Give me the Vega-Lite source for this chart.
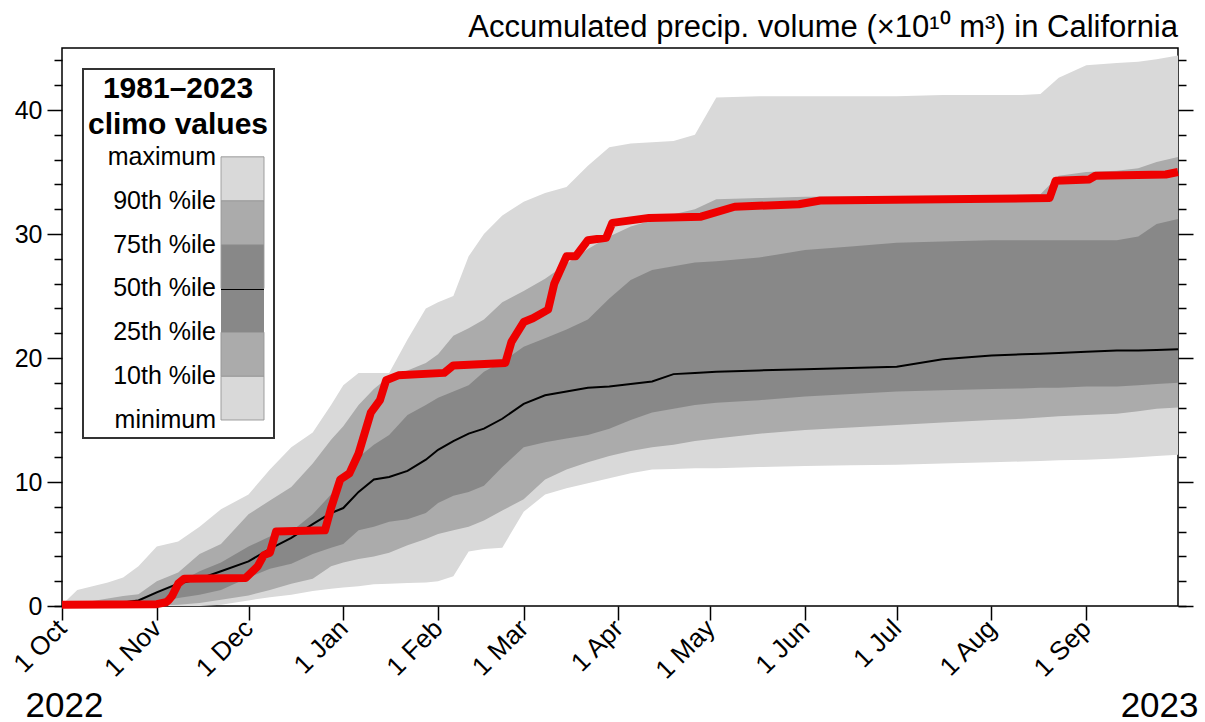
{
  "$schema": "https://vega.github.io/schema/vega-lite/v6.json",
  "width": 1116,
  "height": 558,
  "autosize": {"type": "none"},
  "padding": {"left": 62, "top": 48, "right": 27, "bottom": 116},
  "background": "white",
  "config": {
    "font": "Liberation Sans",
    "view": {"stroke": "black", "strokeWidth": 1.5},
    "axis": {"domain": false, "grid": false, "labelFont": "Liberation Sans", "labelFontSize": 25, "labelColor": "black", "tickColor": "black", "tickWidth": 1.5, "titleFont": "Liberation Sans", "titleColor": "black"},
    "legend": {"strokeWidth": 2}
  },
  "title": {"text": "Accumulated precip. volume (×10¹⁰ m³) in California", "anchor": "end", "frame": "group", "fontSize": 31, "fontWeight": "normal", "font": "Liberation Sans", "color": "black", "offset": 4},
  "datasets": {
    "clim": [
      {"date": "2022-10-01", "mn": 0, "p10": 0, "p25": 0, "p50": 0.02, "p75": 0, "p90": 0, "mx": 0.1},
      {"date": "2022-10-06", "mn": 0, "p10": 0, "p25": 0, "p50": 0.05, "p75": 0.05, "p90": 0.2, "mx": 1.3},
      {"date": "2022-10-11", "mn": 0, "p10": 0, "p25": 0.02, "p50": 0.1, "p75": 0.15, "p90": 0.4, "mx": 1.6},
      {"date": "2022-10-16", "mn": 0, "p10": 0, "p25": 0.04, "p50": 0.2, "p75": 0.3, "p90": 0.6, "mx": 1.9},
      {"date": "2022-10-21", "mn": 0, "p10": 0, "p25": 0.06, "p50": 0.28, "p75": 0.4, "p90": 0.8, "mx": 2.3},
      {"date": "2022-10-26", "mn": 0, "p10": 0.02, "p25": 0.1, "p50": 0.45, "p75": 0.55, "p90": 0.95, "mx": 3.2},
      {"date": "2022-11-01", "mn": 0, "p10": 0.05, "p25": 0.35, "p50": 1.1, "p75": 1.2, "p90": 2.0, "mx": 4.8},
      {"date": "2022-11-08", "mn": 0, "p10": 0.1, "p25": 0.65, "p50": 1.8, "p75": 1.9, "p90": 2.7, "mx": 5.2},
      {"date": "2022-11-15", "mn": 0, "p10": 0.25, "p25": 0.9, "p50": 2.2, "p75": 2.8, "p90": 4.2, "mx": 6.4},
      {"date": "2022-11-22", "mn": 0.1, "p10": 0.5, "p25": 1.3, "p50": 2.8, "p75": 3.5, "p90": 5.0, "mx": 7.8},
      {"date": "2022-12-01", "mn": 0.45, "p10": 0.85, "p25": 2.3, "p50": 3.6, "p75": 4.8, "p90": 7.4, "mx": 9.0},
      {"date": "2022-12-08", "mn": 0.7, "p10": 1.3, "p25": 3.0, "p50": 4.6, "p75": 5.6, "p90": 8.5, "mx": 11.0},
      {"date": "2022-12-15", "mn": 0.9, "p10": 1.8, "p25": 3.4, "p50": 5.5, "p75": 6.0, "p90": 9.6, "mx": 12.8},
      {"date": "2022-12-22", "mn": 1.2, "p10": 2.2, "p25": 4.2, "p50": 6.6, "p75": 7.4, "p90": 11.5, "mx": 14.0},
      {"date": "2022-12-28", "mn": 1.4, "p10": 3.2, "p25": 4.7, "p50": 7.5, "p75": 9.0, "p90": 13.4, "mx": 16.2},
      {"date": "2023-01-01", "mn": 1.5, "p10": 3.5, "p25": 5.0, "p50": 7.9, "p75": 10.0, "p90": 14.5, "mx": 17.8},
      {"date": "2023-01-06", "mn": 1.6, "p10": 3.8, "p25": 6.1, "p50": 9.2, "p75": 12.0, "p90": 16.2, "mx": 18.8},
      {"date": "2023-01-11", "mn": 1.75, "p10": 4.0, "p25": 6.4, "p50": 10.2, "p75": 13.0, "p90": 17.5, "mx": 18.8},
      {"date": "2023-01-16", "mn": 1.8, "p10": 4.3, "p25": 6.8, "p50": 10.4, "p75": 13.8, "p90": 18.5, "mx": 18.8},
      {"date": "2023-01-22", "mn": 1.85, "p10": 4.9, "p25": 7.0, "p50": 10.9, "p75": 15.4, "p90": 19.0, "mx": 21.5},
      {"date": "2023-01-28", "mn": 1.9, "p10": 5.4, "p25": 7.5, "p50": 11.8, "p75": 16.2, "p90": 19.6, "mx": 24.0},
      {"date": "2023-02-01", "mn": 2.0, "p10": 5.8, "p25": 8.3, "p50": 12.6, "p75": 16.8, "p90": 20.3, "mx": 24.5},
      {"date": "2023-02-06", "mn": 2.4, "p10": 6.1, "p25": 8.9, "p50": 13.3, "p75": 17.3, "p90": 21.8, "mx": 25.0},
      {"date": "2023-02-11", "mn": 4.4, "p10": 6.4, "p25": 9.2, "p50": 13.9, "p75": 17.8, "p90": 22.4, "mx": 28.2},
      {"date": "2023-02-16", "mn": 4.6, "p10": 6.9, "p25": 9.7, "p50": 14.3, "p75": 18.9, "p90": 23.1, "mx": 30.0},
      {"date": "2023-02-22", "mn": 4.7, "p10": 7.7, "p25": 11.2, "p50": 15.1, "p75": 19.7, "p90": 24.5, "mx": 31.5},
      {"date": "2023-03-01", "mn": 7.6, "p10": 8.6, "p25": 12.8, "p50": 16.3, "p75": 20.9, "p90": 25.4, "mx": 32.6},
      {"date": "2023-03-08", "mn": 9.0, "p10": 10.2, "p25": 13.2, "p50": 17.0, "p75": 21.6, "p90": 26.4, "mx": 33.3},
      {"date": "2023-03-15", "mn": 9.5, "p10": 11.0, "p25": 13.5, "p50": 17.3, "p75": 22.3, "p90": 27.6, "mx": 33.8},
      {"date": "2023-03-22", "mn": 9.9, "p10": 11.6, "p25": 13.8, "p50": 17.6, "p75": 23.1, "p90": 28.8, "mx": 35.5},
      {"date": "2023-03-29", "mn": 10.3, "p10": 12.1, "p25": 14.3, "p50": 17.7, "p75": 24.8, "p90": 29.8, "mx": 37.0},
      {"date": "2023-04-05", "mn": 10.7, "p10": 12.5, "p25": 15.0, "p50": 17.9, "p75": 26.3, "p90": 30.6, "mx": 37.3},
      {"date": "2023-04-12", "mn": 11.0, "p10": 12.8, "p25": 15.6, "p50": 18.1, "p75": 27.1, "p90": 31.1, "mx": 37.4},
      {"date": "2023-04-19", "mn": 11.05, "p10": 13.0, "p25": 15.9, "p50": 18.7, "p75": 27.4, "p90": 31.6, "mx": 37.5},
      {"date": "2023-04-26", "mn": 11.1, "p10": 13.3, "p25": 16.2, "p50": 18.8, "p75": 27.7, "p90": 32.0, "mx": 38.0},
      {"date": "2023-05-03", "mn": 11.1, "p10": 13.5, "p25": 16.4, "p50": 18.9, "p75": 27.8, "p90": 32.8, "mx": 41.0},
      {"date": "2023-05-17", "mn": 11.2, "p10": 13.9, "p25": 16.6, "p50": 19.0, "p75": 28.1, "p90": 32.9, "mx": 41.1},
      {"date": "2023-06-01", "mn": 11.3, "p10": 14.2, "p25": 16.9, "p50": 19.1, "p75": 28.7, "p90": 33.0, "mx": 41.1},
      {"date": "2023-06-16", "mn": 11.35, "p10": 14.4, "p25": 17.1, "p50": 19.2, "p75": 29.0, "p90": 33.0, "mx": 41.1},
      {"date": "2023-07-01", "mn": 11.4, "p10": 14.6, "p25": 17.3, "p50": 19.3, "p75": 29.3, "p90": 33.0, "mx": 41.1},
      {"date": "2023-07-16", "mn": 11.5, "p10": 14.8, "p25": 17.4, "p50": 19.9, "p75": 29.4, "p90": 33.0, "mx": 41.2},
      {"date": "2023-08-01", "mn": 11.6, "p10": 15.0, "p25": 17.5, "p50": 20.2, "p75": 29.5, "p90": 33.0, "mx": 41.2},
      {"date": "2023-08-11", "mn": 11.65, "p10": 15.1, "p25": 17.55, "p50": 20.3, "p75": 29.5, "p90": 33.1, "mx": 41.2},
      {"date": "2023-08-17", "mn": 11.7, "p10": 15.2, "p25": 17.6, "p50": 20.35, "p75": 29.5, "p90": 33.2, "mx": 41.3},
      {"date": "2023-08-23", "mn": 11.75, "p10": 15.3, "p25": 17.6, "p50": 20.4, "p75": 29.5, "p90": 34.7, "mx": 42.6},
      {"date": "2023-09-01", "mn": 11.8, "p10": 15.4, "p25": 17.7, "p50": 20.5, "p75": 29.5, "p90": 35.0, "mx": 43.6},
      {"date": "2023-09-11", "mn": 11.9, "p10": 15.5, "p25": 17.7, "p50": 20.6, "p75": 29.5, "p90": 35.1, "mx": 43.8},
      {"date": "2023-09-18", "mn": 12.0, "p10": 15.7, "p25": 17.8, "p50": 20.6, "p75": 29.8, "p90": 35.3, "mx": 43.9},
      {"date": "2023-09-24", "mn": 12.1, "p10": 15.9, "p25": 17.9, "p50": 20.65, "p75": 30.8, "p90": 35.8, "mx": 44.1},
      {"date": "2023-10-01", "mn": 12.2, "p10": 16.0, "p25": 18.0, "p50": 20.7, "p75": 31.2, "p90": 36.2, "mx": 44.4}
    ],
    "obs": [
      {"date": "2022-10-01", "v": 0.1},
      {"date": "2022-11-01", "v": 0.15},
      {"date": "2022-11-04", "v": 0.3},
      {"date": "2022-11-05", "v": 0.5},
      {"date": "2022-11-06", "v": 0.8},
      {"date": "2022-11-08", "v": 1.8},
      {"date": "2022-11-10", "v": 2.2},
      {"date": "2022-11-30", "v": 2.25},
      {"date": "2022-12-04", "v": 3.2},
      {"date": "2022-12-06", "v": 4.1},
      {"date": "2022-12-08", "v": 4.3},
      {"date": "2022-12-10", "v": 6.0},
      {"date": "2022-12-26", "v": 6.1},
      {"date": "2022-12-28", "v": 7.9},
      {"date": "2022-12-31", "v": 10.2},
      {"date": "2023-01-03", "v": 10.7},
      {"date": "2023-01-06", "v": 12.3},
      {"date": "2023-01-10", "v": 15.6},
      {"date": "2023-01-13", "v": 16.6},
      {"date": "2023-01-15", "v": 18.2},
      {"date": "2023-01-19", "v": 18.6},
      {"date": "2023-02-03", "v": 18.8},
      {"date": "2023-02-06", "v": 19.4},
      {"date": "2023-02-23", "v": 19.6},
      {"date": "2023-02-25", "v": 21.3},
      {"date": "2023-03-01", "v": 22.9},
      {"date": "2023-03-04", "v": 23.2},
      {"date": "2023-03-09", "v": 23.9},
      {"date": "2023-03-11", "v": 26.0},
      {"date": "2023-03-15", "v": 28.2},
      {"date": "2023-03-18", "v": 28.2},
      {"date": "2023-03-22", "v": 29.5},
      {"date": "2023-03-28", "v": 29.7},
      {"date": "2023-03-30", "v": 30.9},
      {"date": "2023-04-11", "v": 31.3},
      {"date": "2023-04-28", "v": 31.4},
      {"date": "2023-05-09", "v": 32.2},
      {"date": "2023-05-30", "v": 32.4},
      {"date": "2023-06-06", "v": 32.7},
      {"date": "2023-08-20", "v": 32.9},
      {"date": "2023-08-22", "v": 34.3},
      {"date": "2023-09-02", "v": 34.4},
      {"date": "2023-09-04", "v": 34.7},
      {"date": "2023-09-27", "v": 34.8},
      {"date": "2023-10-01", "v": 35.0}
    ],
    "levels": [{"level": 0}, {"level": 1}, {"level": 2}, {"level": 3}, {"level": 4}, {"level": 5}, {"level": 6}]
  },
  "layer": [
    {
      "data": {"name": "clim"},
      "mark": {"type": "area", "color": "#d9d9d9"},
      "encoding": {
        "x": {"field": "date", "type": "temporal",
          "scale": {"type": "utc", "domain": [{"year": 2022, "month": 10, "date": 1, "utc": true}, {"year": 2023, "month": 10, "date": 1, "utc": true}]},
          "axis": {"orient": "bottom", "values": [
            {"year": 2022, "month": 10, "date": 1, "utc": true}, {"year": 2022, "month": 11, "date": 1, "utc": true}, {"year": 2022, "month": 12, "date": 1, "utc": true},
            {"year": 2023, "month": 1, "date": 1, "utc": true}, {"year": 2023, "month": 2, "date": 1, "utc": true}, {"year": 2023, "month": 3, "date": 1, "utc": true},
            {"year": 2023, "month": 4, "date": 1, "utc": true}, {"year": 2023, "month": 5, "date": 1, "utc": true}, {"year": 2023, "month": 6, "date": 1, "utc": true},
            {"year": 2023, "month": 7, "date": 1, "utc": true}, {"year": 2023, "month": 8, "date": 1, "utc": true}, {"year": 2023, "month": 9, "date": 1, "utc": true}],
            "labelExpr": "utcFormat(datum.value, '%-d %b')", "labelAngle": -45, "labelAlign": "right", "labelBaseline": "middle", "labelPadding": 4, "labelFontSize": 26, "tickSize": 14, "labelFlush": false, "labelOverlap": false, "labelBound": false,
            "title": "2022", "titleFontSize": 35, "titleFontWeight": "normal", "titleX": 2, "titleY": 110, "titleAlign": "center", "titleBaseline": "alphabetic", "titleAnchor": "start"}},
        "y": {"field": "mn", "type": "quantitative", "scale": {"domain": [0, 45], "nice": false, "zero": false},
          "axis": {"orient": "left", "values": [0, 2, 4, 6, 8, 12, 14, 16, 18, 22, 24, 26, 28, 32, 34, 36, 38, 42, 44], "labels": false, "tickSize": 8, "title": null}},
        "y2": {"field": "mx"}
      }
    },
    {
      "data": {"name": "clim"},
      "mark": {"type": "area", "color": "#ababab"},
      "encoding": {
        "x": {"field": "date", "type": "temporal",
          "axis": {"orient": "bottom", "ticks": false, "labels": false, "domain": false, "title": "2023", "titleFontSize": 35, "titleFontWeight": "normal", "titleX": 1136, "titleY": 110, "titleAlign": "right", "titleBaseline": "alphabetic", "titleAnchor": "start"}},
        "y": {"field": "p10", "type": "quantitative",
          "axis": {"orient": "left", "values": [0, 10, 20, 30, 40], "tickSize": 15, "labelPadding": 5, "title": null}},
        "y2": {"field": "p90"}
      }
    },
    {
      "data": {"name": "clim"},
      "mark": {"type": "area", "color": "#888888"},
      "encoding": {
        "x": {"field": "date", "type": "temporal", "axis": null},
        "y": {"field": "p25", "type": "quantitative",
          "axis": {"orient": "right", "values": [0, 2, 4, 6, 8, 12, 14, 16, 18, 22, 24, 26, 28, 32, 34, 36, 38, 42, 44], "labels": false, "tickSize": 8, "title": null}},
        "y2": {"field": "p75"}
      }
    },
    {
      "data": {"name": "clim"},
      "mark": {"type": "line", "color": "black", "strokeWidth": 2},
      "encoding": {
        "x": {"field": "date", "type": "temporal", "axis": null},
        "y": {"field": "p50", "type": "quantitative",
          "axis": {"orient": "right", "values": [0, 10, 20, 30, 40], "labels": false, "tickSize": 15, "title": null}}
      }
    },
    {
      "data": {"name": "obs"},
      "mark": {"type": "line", "color": "#ee0000", "strokeWidth": 8, "strokeJoin": "round"},
      "encoding": {
        "x": {"field": "date", "type": "temporal", "axis": null},
        "y": {"field": "v", "type": "quantitative", "axis": null}
      }
    },
    {
      "data": {"name": "levels"},
      "mark": {"type": "point", "opacity": 0},
      "encoding": {
        "fill": {"field": "level", "type": "quantitative",
          "scale": {"type": "quantize", "domain": [0, 7], "nice": false, "zero": false, "range": ["#d9d9d9", "#ababab", "#888888", "#888888", "#ababab", "#d9d9d9", "rgba(255,255,255,0)"]},
          "legend": {
            "type": "gradient", "orient": "top-left", "offset": 21, "direction": "vertical",
            "title": ["1981–2023", "climo values"], "titleFont": "Liberation Sans", "titleFontSize": 30, "titleFontWeight": "bold", "titleColor": "black",
            "titleAnchor": "middle", "titleAlign": "center", "titleLineHeight": 36, "titlePadding": -27, "titleLimit": 400,
            "gradientLength": 307, "gradientThickness": 43, "gradientStrokeColor": "#999999", "gradientStrokeWidth": 1,
            "labelFont": "Liberation Sans", "labelFontSize": 25, "labelColor": "black", "labelOverlap": false, "labelLimit": 300,
            "labelExpr": "isFinite(datum.value) ? ['minimum','10th %ile','25th %ile','50th %ile','75th %ile','90th %ile','maximum'][datum.value] : 'minimum'",
            "padding": 5, "strokeColor": "#333333", "fillColor": "white", "cornerRadius": 0,
            "encode": {
              "labels": {"update": {"x": {"value": 125}, "align": {"value": "right"}, "baseline": {"value": "middle"}}},
              "gradient": {"update": {"x": {"value": 130},
                "stroke": {"signal": "datum.value === 6 ? 'transparent' : datum.value === 2 ? 'black' : '#999999'"},
                "strokeWidth": {"signal": "datum.value === 2 ? 3 : 1"},
                "strokeDash": {"signal": "datum.value === 2 ? [43, 2000] : [1, 0]"}}}
            }
          }
        }
      }
    }
  ],
  "resolve": {"axis": {"x": "independent", "y": "independent"}}
}
